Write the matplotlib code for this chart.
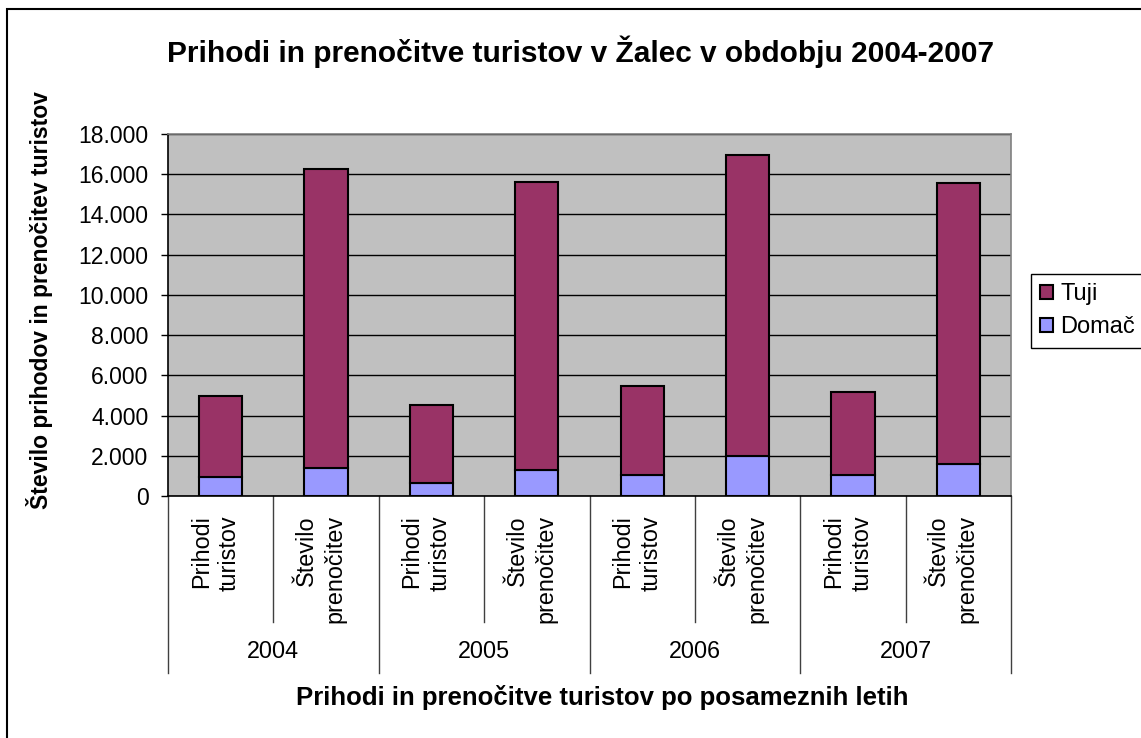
import numpy as np
import matplotlib
matplotlib.use('Agg')
import matplotlib.pyplot as plt
from matplotlib import patches, transforms
from matplotlib.ticker import FuncFormatter

plt.rcParams['font.family'] = ['Liberation Sans', 'DejaVu Sans']

years = ['2004', '2005', '2006', '2007']
sub_labels = ['Prihodi\nturistov', 'Število\nprenočitev']
domac = [920, 1380, 650, 1290, 1030, 1980, 1030, 1590]
tuji_total = [4980, 16270, 4510, 15630, 5460, 16970, 5180, 15560]
tuji = [t - d for t, d in zip(tuji_total, domac)]

W, H = 1141, 738
fig = plt.figure(figsize=(W / 100, H / 100), dpi=100)
ax = fig.add_axes([168 / W, 1 - 496 / H, (1011 - 168) / W, (496 - 134) / H])

x = np.arange(len(domac))
bw = 0.41
ax.set_facecolor('#C0C0C0')
b1 = ax.bar(x, domac, bw, color='#9999FF', edgecolor='black', linewidth=1.5, zorder=3)
b2 = ax.bar(x, tuji, bw, bottom=domac, color='#993366', edgecolor='black', linewidth=1.5, zorder=3)

ax.set_ylim(0, 18000)
ax.set_xlim(-0.5, len(domac) - 0.5)
ax.set_yticks(np.arange(0, 18001, 2000))
ax.yaxis.set_major_formatter(FuncFormatter(lambda v, p: '{:,.0f}'.format(v).replace(',', '.')))
ax.tick_params(axis='y', labelsize=16.5, length=5, width=1, pad=9)
ax.set_xticks([])
ax.grid(axis='y', color='black', linewidth=1, zorder=1)
ax.set_axisbelow(True)
ax.spines['left'].set_color('black')
ax.spines['bottom'].set_color('black')
ax.spines['top'].set_color('#808080')
ax.spines['right'].set_color('#808080')
for s in ax.spines.values():
    s.set_linewidth(1.2)

# category labels and separators below the axis
trans = transforms.blended_transform_factory(ax.transData, ax.transAxes)
for i in range(len(domac)):
    ax.text(i - 0.05, -0.053, sub_labels[i % 2], rotation=90, ha='center', va='top',
            multialignment='right', fontsize=16.8, transform=trans, linespacing=1.3)
for i in range(len(domac) + 1):
    bottom = -0.489 if i % 2 == 0 else -0.348
    ax.plot([i - 0.5, i - 0.5], [0, bottom], color='#404040', linewidth=1,
            transform=trans, clip_on=False)
for j, yr in enumerate(years):
    ax.text(2 * j + 0.5, -0.43, yr, ha='center', va='center', fontsize=16.8, transform=trans)

fig.text(581 / W, 1 - 52 / H, 'Prihodi in prenočitve turistov v Žalec v obdobju 2004-2007',
         ha='center', va='center', fontsize=21.5, fontweight='bold')
fig.text(40 / W, 1 - 300 / H, 'Število prihodov in prenočitev turistov', rotation=90,
         ha='center', va='center', fontsize=16.5, fontweight='bold')
fig.text(602 / W, 1 - 697 / H, 'Prihodi in prenočitve turistov po posameznih letih',
         ha='center', va='center', fontsize=18.5, fontweight='bold')

leg = fig.legend([b2, b1], ['Tuji', 'Domač'], loc='upper left',
                 bbox_to_anchor=(1031 / W, 1 - 274 / H), fontsize=17,
                 frameon=True, fancybox=False, edgecolor='black', framealpha=1,
                 handlelength=0.55, handleheight=0.55, handletextpad=0.3,
                 labelspacing=0.45, borderpad=0.4, borderaxespad=0)
leg.get_frame().set_linewidth(1)

fig.patches.append(patches.Rectangle((7 / W, -0.1), 1.2, 1.1 - 9 / H, transform=fig.transFigure,
                                     fill=False, edgecolor='black', linewidth=1.5))

fig.savefig('out.png', dpi=100)
